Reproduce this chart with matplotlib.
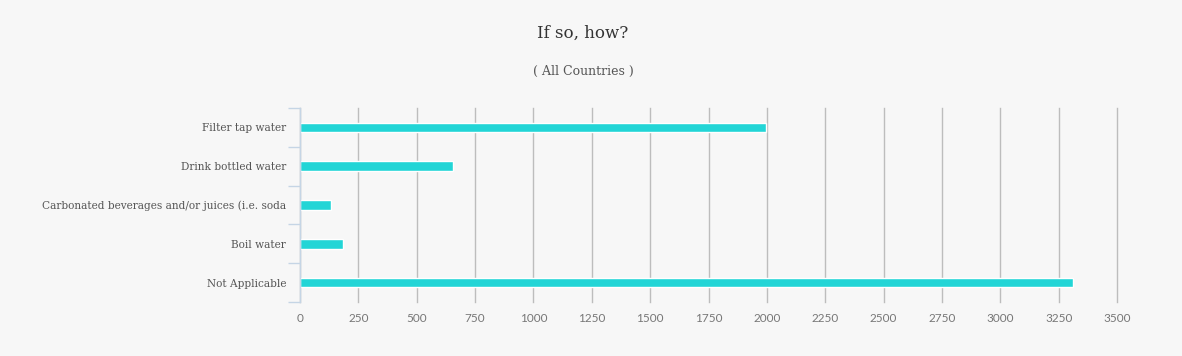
import numpy as np
import matplotlib
matplotlib.use("Agg")
import matplotlib.pyplot as plt

# data
categories = ['Filter tap water', 'Drink bottled water',
              'Carbonated beverages and/or juices (i.e. soda',
              'Boil water', 'Not Applicable']
counts = [1997, 654, 133, 184, 3311]
x_ticks = [0, 250, 500, 750, 1000, 1250, 1500, 1750, 2000, 2250,
           2500, 2750, 3000, 3250, 3500]

bg = '#f7f7f7'
bar_col = '#22d5d6'
txt = '#555555'

fig = plt.figure(figsize=(11.82, 3.56), dpi=100, facecolor=bg)
ax = fig.add_axes([300/1182, 54/356, 817/1182, 194/356], facecolor=bg)

pos = np.arange(len(categories))
ax.barh(pos, counts, height=0.25, color=bar_col, edgecolor='white',
        linewidth=1, zorder=3)

ax.set_xlim(0, 3500)
ax.set_ylim(len(categories) - 0.5, -0.5)
ax.set_xticks(x_ticks)
ax.set_xticklabels([str(t) for t in x_ticks], family='Lato', fontsize=8.5,
                   color='#777777')
ax.tick_params(axis='x', length=0, pad=8)

ax.set_yticks(pos)
ax.set_yticklabels(categories, family='DejaVu Serif', fontsize=7.6,
                   color=txt)
ax.set_yticks(np.arange(-0.5, len(categories)), minor=True)
ax.tick_params(axis='y', which='major', length=0, pad=10)
ax.tick_params(axis='y', which='minor', length=9, color='#c5d5e5',
               width=1)

ax.grid(axis='x', color='#bdbdbd', linewidth=1, zorder=0)
for gl in ax.get_xgridlines():
    gl.set_clip_on(False)
for s in ['top', 'right', 'bottom']:
    ax.spines[s].set_visible(False)
ax.spines['left'].set_color('#c5d5e5')
ax.spines['left'].set_linewidth(1)
ax.spines['left'].set_zorder(4)

fig.text(583/1182, 1 - 33/356, 'If so, how?', ha='center', va='center',
         family='DejaVu Serif', fontsize=12, color='#333333')
fig.text(583/1182, 1 - 71/356, '( All Countries )', ha='center',
         va='center', family='DejaVu Serif', fontsize=9, color=txt)

fig.savefig('out.png', dpi=100, facecolor=bg)
